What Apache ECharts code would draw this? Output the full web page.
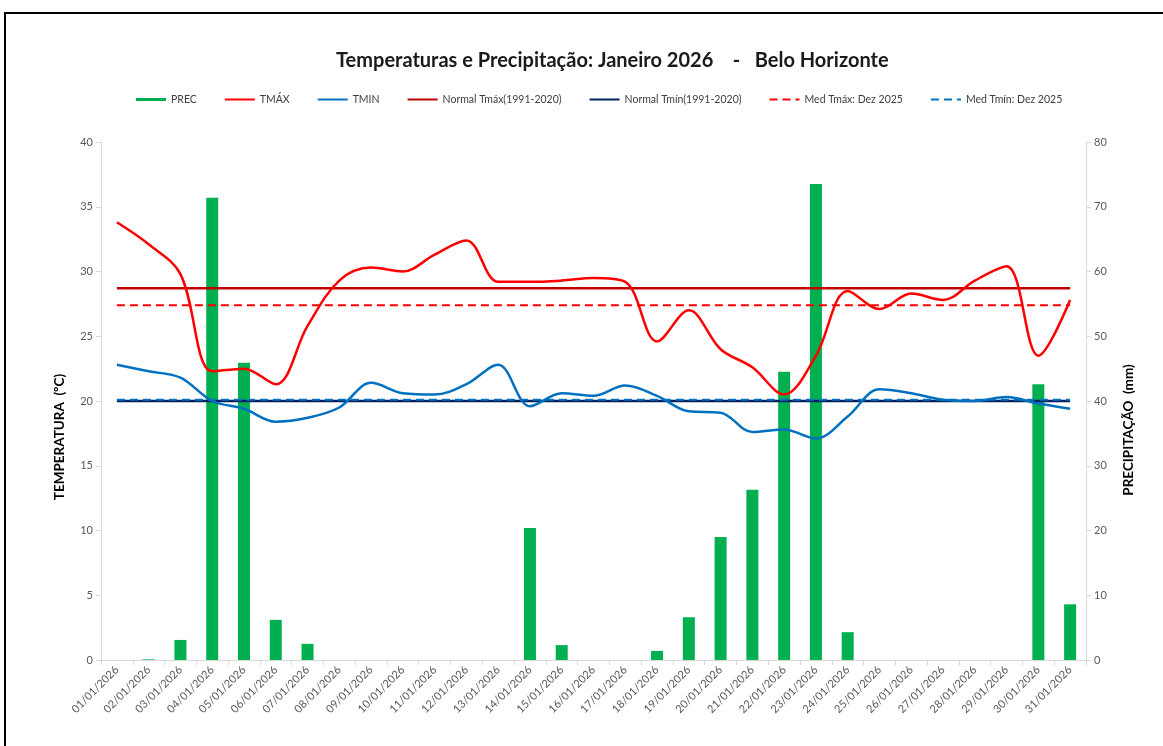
<!DOCTYPE html>
<html>
<head>
<meta charset="utf-8">
<script src="https://cdn.jsdelivr.net/npm/echarts@6/dist/echarts.min.js"></script>
<style>
  html, body { margin: 0; padding: 0; background: #fff; }
  #frame { position: absolute; left: 4px; top: 12px; width: 1170px; height: 760px;
           border-top: 2px solid #000; border-left: 2px solid #000; }
  #chart { position: absolute; left: 0; top: 0; width: 1163px; height: 746px; }
</style>
</head>
<body>
<div id="frame"></div>
<div id="chart"></div>
<script>
// dias de janeiro 2026
var dias = [];
for (var d = 1; d <= 31; d++) {
    dias.push((d < 10 ? '0' + d : '' + d) + '/01/2026');
}

var prec = [0, 0.1, 3.1, 71.4, 45.9, 6.2, 2.5, 0, 0, 0, 0, 0, 0, 20.4, 2.3, 0,
            0, 1.4, 6.6, 19.0, 26.3, 44.5, 73.5, 4.3, 0, 0, 0, 0, 0, 42.6, 8.6];
var tmax = [33.8, 32.1, 29.8, 22.3, 22.5, 21.3, 25.8, 29.3, 30.3, 30.0, 31.3, 32.4, 29.2, 29.2, 29.3, 29.5,
            29.2, 24.6, 27.0, 24.0, 22.6, 20.5, 23.5, 28.5, 27.1, 28.3, 27.8, 29.3, 30.4, 23.5, 27.8];
var tmin = [22.8, 22.3, 21.8, 20.0, 19.4, 18.4, 18.7, 19.5, 21.4, 20.6, 20.5, 21.3, 22.8, 19.6, 20.6, 20.4,
            21.2, 20.4, 19.2, 19.1, 17.6, 17.8, 17.1, 18.8, 20.9, 20.6, 20.1, 20.0, 20.3, 19.8, 19.4];

var normalTmax = 28.7;
var normalTmin = 20.0;
var medTmaxDez = 27.4;
var medTminDez = 20.1;

function constante(v) {
    return dias.map(function () { return v; });
}

var fonte = 'Lato, "Open Sans", sans-serif';
var chart = echarts.init(document.getElementById('chart'));

var option = {
    animation: false,
    textStyle: { fontFamily: fonte },
    title: {
        text: 'Temperaturas e Precipitação: Janeiro 2026    -   Belo Horizonte',
        left: 331,
        top: 46,
        textStyle: { fontSize: 20, fontWeight: 'bold', color: '#1a1a1a', fontFamily: fonte }
    },
    legend: {
        top: 89,
        left: 131,
        itemWidth: 30,
        itemHeight: 3,
        itemGap: 27,
        itemStyle: { opacity: 0 },
        textStyle: { fontSize: 10.5, color: '#404040', fontFamily: fonte },
        data: [
            { name: 'PREC', icon: 'rect', itemStyle: { color: '#00B050', opacity: 1 } },
            'TMÁX', 'TMIN', 'Normal Tmáx(1991-2020)', 'Normal Tmín(1991-2020)',
            'Med Tmáx: Dez 2025', 'Med Tmín: Dez 2025'
        ]
    },
    grid: { left: 101, right: 77, top: 142, bottom: 86 },
    xAxis: {
        type: 'category',
        data: dias,
        boundaryGap: true,
        axisLine: { lineStyle: { color: '#d9d9d9' } },
        axisTick: { show: true, alignWithLabel: false, lineStyle: { color: '#d9d9d9' } },
        axisLabel: { rotate: 45, interval: 0, fontSize: 11, color: '#595959', margin: 8 }
    },
    yAxis: [
        {
            type: 'value', min: 0, max: 40, interval: 5,
            name: 'TEMPERATURA  (ºC)',
            nameLocation: 'middle',
            nameGap: 34,
            nameTextStyle: { fontSize: 13.5, fontWeight: 'bold', color: '#000', padding: [0, 0, 0, -72] },
            axisLine: { show: true, lineStyle: { color: '#d9d9d9' } },
            axisTick: { show: true, lineStyle: { color: '#d9d9d9' } },
            axisLabel: { fontSize: 11, color: '#595959' },
            splitLine: { show: false }
        },
        {
            type: 'value', min: 0, max: 80, interval: 10,
            name: 'PRECIPITAÇÃO  (mm)',
            nameLocation: 'middle',
            nameGap: 36,
            nameTextStyle: { fontSize: 13.5, fontWeight: 'bold', color: '#000', padding: [0, 0, 0, -58] },
            axisLine: { show: true, lineStyle: { color: '#d9d9d9' } },
            axisTick: { show: true, lineStyle: { color: '#d9d9d9' } },
            axisLabel: { fontSize: 11, color: '#595959' },
            splitLine: { show: false }
        }
    ],
    series: [
        {
            name: 'PREC', type: 'bar', yAxisIndex: 1, data: prec,
            barWidth: 12,
            itemStyle: { color: '#00B050' }
        },
        {
            name: 'Normal Tmáx(1991-2020)', type: 'line', data: constante(normalTmax),
            symbol: 'none', lineStyle: { color: '#C00000', width: 2.5 }, itemStyle: { color: '#C00000' }
        },
        {
            name: 'Normal Tmín(1991-2020)', type: 'line', data: constante(normalTmin),
            symbol: 'none', lineStyle: { color: '#002060', width: 2.5 }, itemStyle: { color: '#002060' }
        },
        {
            name: 'Med Tmáx: Dez 2025', type: 'line', data: constante(medTmaxDez),
            symbol: 'none', lineStyle: { color: '#FF0000', width: 2, type: [8, 5] }, itemStyle: { color: '#FF0000' }
        },
        {
            name: 'Med Tmín: Dez 2025', type: 'line', data: constante(medTminDez),
            symbol: 'none', lineStyle: { color: '#0070C0', width: 2, type: [8, 5] }, itemStyle: { color: '#0070C0' }
        },
        {
            name: 'TMÁX', type: 'line', data: tmax, smooth: 0.35,
            symbol: 'none', lineStyle: { color: '#FF0000', width: 2.5 }, itemStyle: { color: '#FF0000' }
        },
        {
            name: 'TMIN', type: 'line', data: tmin, smooth: 0.35,
            symbol: 'none', lineStyle: { color: '#0070C0', width: 2.5 }, itemStyle: { color: '#0070C0' }
        }
    ]
};

chart.setOption(option);
</script>
</body>
</html>
